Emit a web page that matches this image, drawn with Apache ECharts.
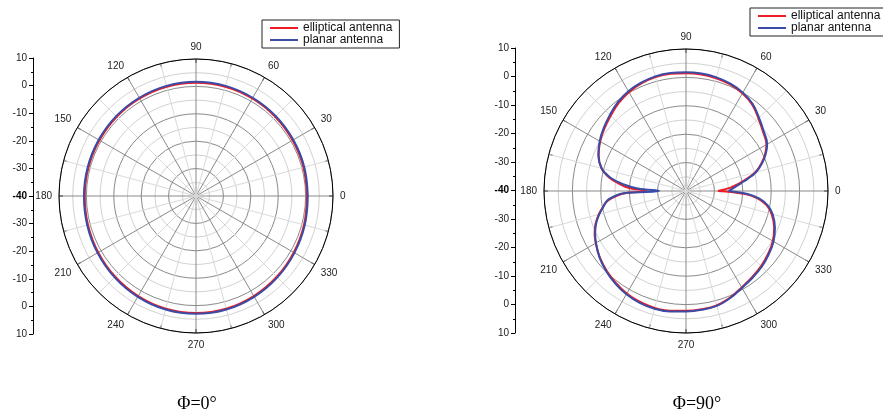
<!DOCTYPE html>
<html>
<head>
<meta charset="utf-8">
<script src="https://cdn.jsdelivr.net/npm/echarts@6/dist/echarts.min.js"></script>
<style>
html,body{margin:0;padding:0;background:#fff;}
#chart{width:883px;height:414px;}
</style>
</head>
<body>
<div id="chart"></div>
<script>
// ---------- data ----------
var seriesNames = ['elliptical antenna', 'planar antenna'];
var panelTitles = ['\u03A6=0\u00B0', '\u03A6=90\u00B0'];
var scaleTickLabels = ['10', '0', '-10', '-20', '-30', '-40', '-30', '-20', '-10', '0', '10'];
var angleTickLabels = ['0', '30', '60', '90', '120', '150', '180', '210', '240', '270', '300', '330'];

// Phi = 0 deg panel
var phi0Angles = [0, 15, 30, 45, 60, 75, 90, 105, 120, 135, 150, 165, 180, 195, 210, 225, 240, 255, 270, 285, 300, 315, 330, 345, 360];
var phi0Elliptical = [0.5, 0.6, 0.7, 0.9, 1.1, 1.3, 1.3, 1.3, 1.1, 0.9, 0.7, 0.6, 0.6, 0.8, 1.2, 1.7, 2.2, 2.6, 2.7, 2.6, 2.2, 1.7, 1.2, 0.8, 0.5];
var phi0Planar = [0.8, 0.9, 1.0, 1.2, 1.4, 1.6, 1.7, 1.6, 1.4, 1.2, 1.0, 0.9, 0.9, 1.1, 1.5, 2.0, 2.5, 2.9, 3.0, 2.9, 2.5, 2.0, 1.5, 1.1, 0.8];

// Phi = 90 deg panel
var phi90Angles = [0, 4, 8, 11, 15, 20, 25, 30, 37.5, 45, 52.5, 60, 67.5, 75, 82.5, 90, 97.5, 105, 112.5, 120, 127.5, 135, 142.5, 150, 157.5, 165, 170, 174, 177, 180,
  182, 184, 187, 191, 195, 200, 205, 210, 217.5, 225, 232.5, 240, 247.5, 255, 262.5, 270, 277.5, 285, 292.5, 300, 307.5, 315, 322.5, 330, 337.5, 345, 350, 354, 357, 360];
var phi90Elliptical = [-28.8, -24.5, -21.2, -18.5, -14.8, -11.8, -9.3, -7.3, -5.8, -3.9, -1.7, -0.3, 0.6, 1.1, 1.4, 1.5, 1.6, 1.5, 1.0, 0.2, -1.0, -2.5, -3.8, -5.1, -6.7, -9.2, -12.5, -16.5, -20, -26,
  -19, -15.5, -12.2, -10.2, -8.2, -6.1, -4.5, -3.3, -1.7, -0.4, 0.7, 1.7, 2.3, 2.6, 2.5, 2.2, 2.0, 1.7, 0.6, -0.8, -1.8, -2.6, -3.6, -4.7, -6.4, -8.8, -11.2, -14.5, -19, -28.8];
var phi90Planar = [-25, -23, -20.5, -18, -14.5, -11.5, -9, -7, -5.5, -3.6, -1.4, 0.0, 0.9, 1.4, 1.7, 1.8, 1.9, 1.8, 1.3, 0.6, -0.6, -2.1, -3.5, -4.9, -6.6, -9.3, -13, -18, -23, -30.5,
  -18, -15, -12, -10.3, -8.4, -6.3, -4.7, -3.4, -1.6, -0.2, 1.0, 2.0, 2.6, 2.9, 2.8, 2.4, 2.2, 1.9, 0.8, -0.6, -1.5, -2.3, -3.3, -4.4, -6.1, -8.4, -10.8, -14, -18, -25];

// ---------- helpers ----------
function zip(angles, vals) {
  return angles.map(function (a, i) { return [vals[i], a]; });
}
var RED = '#ee1c25', BLUE = '#3a4ca6';
var FONT = 'Liberation Sans';

function angleAxisCfg(idx) {
  return {
    polarIndex: idx, type: 'value', min: 0, max: 360, interval: 30,
    startAngle: 0, clockwise: false,
    axisLine: { show: true, lineStyle: { color: '#000', width: 1 } },
    axisTick: { show: true, inside: true, length: 4, lineStyle: { color: '#000' } },
    minorTick: { show: true, splitNumber: 2, length: 4, lineStyle: { color: '#000' } },
    axisLabel: {
      color: '#222', fontSize: 10, fontFamily: FONT, margin: 7,
      formatter: function (v) { var k = Math.round(v / 30); return angleTickLabels[k % 12]; }
    },
    splitLine: { show: true, lineStyle: { color: '#8a8a8a', width: 1 } },
    minorSplitLine: { show: true, lineStyle: { color: '#dadada', width: 1 } }
  };
}
function radiusAxisCfg(idx) {
  return {
    polarIndex: idx, type: 'value', min: -40, max: 10, interval: 10,
    axisLine: { show: false }, axisTick: { show: false }, axisLabel: { show: false },
    minorTick: { show: false, splitNumber: 2 },
    splitLine: { show: true, lineStyle: { color: '#8a8a8a', width: 1 } },
    minorSplitLine: { show: true, lineStyle: { color: '#d2d2d2', width: 1 } }
  };
}
function scaleAxisCfg(idx) {
  return {
    gridIndex: idx, type: 'value', min: -50, max: 50, interval: 10, position: 'left',
    axisLine: { show: true, lineStyle: { color: '#000', width: 1 } },
    axisTick: { show: true, length: 4, lineStyle: { color: '#000' } },
    minorTick: { show: true, splitNumber: 2, length: 2, lineStyle: { color: '#000' } },
    splitLine: { show: false },
    axisLabel: {
      color: '#222', fontSize: 10, fontFamily: FONT, margin: 6,
      formatter: function (v) {
        var s = scaleTickLabels[Math.round((50 - v) / 10)];
        return s === '-40' ? '{b|' + s + '}' : s;
      },
      rich: { b: { fontWeight: 'bold', fontSize: 10, color: '#000', fontFamily: FONT } }
    }
  };
}
function legendCfg(left, top) {
  return {
    left: left, top: top, orient: 'vertical',
    data: seriesNames.map(function (n) { return { name: n, icon: 'rect' }; }),
    borderColor: '#222', borderWidth: 1, borderRadius: 0,
    padding: [2, 7, 2, 8], itemGap: 0, itemWidth: 28, itemHeight: 2,
    textStyle: { fontSize: 12, color: '#111', fontFamily: FONT, lineHeight: 12, height: 12 },
    selectedMode: false
  };
}
function lineSeries(name, idx, data, color) {
  return {
    name: name, type: 'line', coordinateSystem: 'polar', polarIndex: idx,
    data: data, symbol: 'none', smooth: 0.4,
    lineStyle: { color: color, width: 2 }, itemStyle: { color: color },
    silent: true
  };
}

var chart = echarts.init(document.getElementById('chart'), null, { renderer: 'canvas' });
chart.setOption({
  animation: false,
  backgroundColor: '#fff',
  polar: [
    { center: [196, 196], radius: 137 },
    { center: [686, 191], radius: 142 }
  ],
  angleAxis: [angleAxisCfg(0), angleAxisCfg(1)],
  radiusAxis: [radiusAxisCfg(0), radiusAxisCfg(1)],
  grid: [
    { left: 33, top: 58, width: 1, height: 276 },
    { left: 515, top: 48, width: 1, height: 285 }
  ],
  xAxis: [
    { gridIndex: 0, type: 'value', show: false, min: 0, max: 1 },
    { gridIndex: 1, type: 'value', show: false, min: 0, max: 1 }
  ],
  yAxis: [scaleAxisCfg(0), scaleAxisCfg(1)],
  legend: [legendCfg(262, 20), legendCfg(750, 8)],
  graphic: [
    { type: 'text', x: 197, y: 404, style: { text: panelTitles[0], align: 'center', verticalAlign: 'middle', font: '18px "Liberation Serif"', fill: '#000' } },
    { type: 'text', x: 697, y: 404, style: { text: panelTitles[1], align: 'center', verticalAlign: 'middle', font: '18px "Liberation Serif"', fill: '#000' } }
  ],
  series: [
    lineSeries(seriesNames[0], 0, zip(phi0Angles, phi0Elliptical), RED),
    lineSeries(seriesNames[1], 0, zip(phi0Angles, phi0Planar), BLUE),
    lineSeries(seriesNames[0], 1, zip(phi90Angles, phi90Elliptical), RED),
    lineSeries(seriesNames[1], 1, zip(phi90Angles, phi90Planar), BLUE)
  ]
});
</script>
</body>
</html>
